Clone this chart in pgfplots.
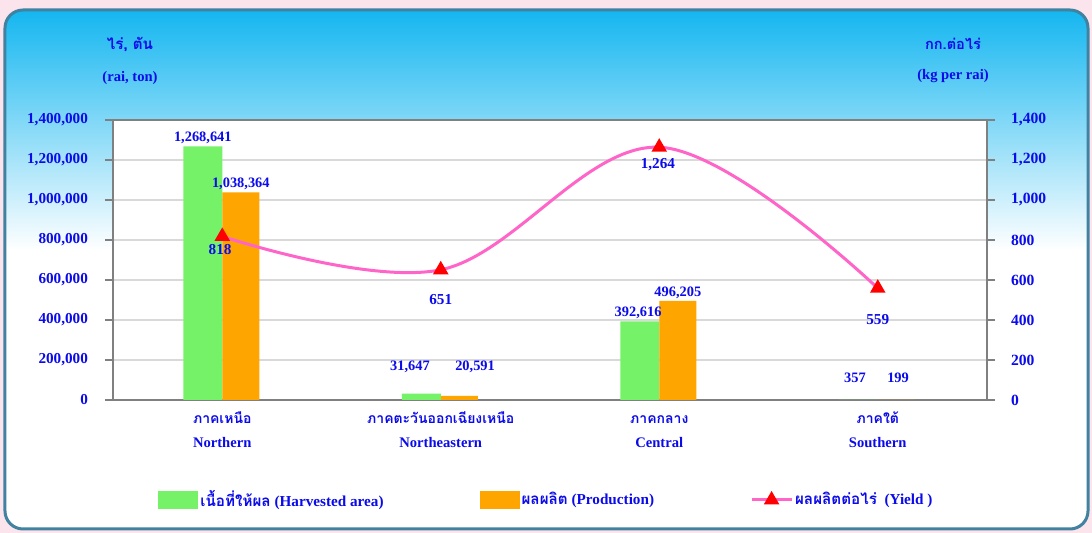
\documentclass[border=0pt]{standalone}
\usepackage{pgfplots}
\pgfplotsset{compat=1.18}
\usepackage{fontspec}
\setmainfont{Liberation Serif}
\newfontfamily\thai[Script=Thai]{Loma}

\definecolor{bgpink}{RGB}{252,228,236}
\definecolor{panelcyan}{RGB}{20,182,240}
\definecolor{panelmid}{RGB}{115,212,248}
\definecolor{panelborder}{RGB}{65,130,160}
\definecolor{txtblue}{RGB}{10,10,235}
\definecolor{bargreen}{RGB}{118,242,104}
\definecolor{barorange}{RGB}{255,165,0}
\definecolor{linepink}{RGB}{255,100,200}

\begin{document}
\begin{tikzpicture}[x=1pt,y=1pt]
% page and panel
\fill[bgpink] (-56.5,-66.5) rectangle (489.5,200);
\begin{scope}
  \clip[rounded corners=9pt] (-54,-64.5) rectangle (487.5,195);
  \fill[white] (-54,-64.5) rectangle (487.5,195);
  \shade[top color=panelcyan, middle color=panelmid, bottom color=white] (-54,75) rectangle (487.5,195);
\end{scope}
\draw[panelborder, line width=1.5pt, rounded corners=9pt] (-54,-64.5) rectangle (487.5,195);

% unit captions
\node[txtblue, font=\fontsize{7.6}{10}\selectfont\thai\bfseries] at (8.5,178) {ไร่, ตัน};
\node[txtblue, font=\fontsize{7.3}{9}\selectfont\bfseries] at (8.5,161) {(rai, ton)};
\node[txtblue, font=\fontsize{7.3}{10}\selectfont\thai\bfseries] at (420,178) {กก.ต่อไร่};
\node[txtblue, font=\fontsize{7.3}{9}\selectfont\bfseries] at (420,162) {(kg per rai)};

\begin{axis}[
    at={(0,0)}, anchor=south west,
    scale only axis, width=437pt, height=140pt,
    xmin=-0.5, xmax=3.5,
    ymin=0, ymax=1400000,
    axis background/.style={fill=white},
    axis line style={gray, line width=0.8pt},
    xtick={0,1,2,3},
    xtick style={draw=none},
    xticklabels={{{\thai\fontsize{7}{12}\selectfont\rule{0pt}{8pt}ภาคเหนือ}\\Northern},
                 {{\thai\fontsize{7}{12}\selectfont\rule{0pt}{8pt}ภาคตะวันออกเฉียงเหนือ}\\Northeastern},
                 {{\thai\fontsize{7}{12}\selectfont\rule{0pt}{8pt}ภาคกลาง}\\Central},
                 {{\thai\fontsize{7}{12}\selectfont\rule{0pt}{8pt}ภาคใต้}\\Southern}},
    xticklabel style={align=center, text=txtblue, anchor=north,
        font=\fontsize{7.3}{12}\selectfont\bfseries, yshift=4pt},
    ytick={0,200000,...,1400000},
    ytick pos=left,
    scaled y ticks=false,
    tick align=outside,
    major tick length=4pt,
    ytick style={gray, line width=0.8pt},
    yticklabel style={text=txtblue, font=\fontsize{7.6}{9}\selectfont\bfseries, xshift=-5pt},
    /pgf/number format/assume math mode=true,
    /pgf/number format/.cd, fixed, 1000 sep={,}, /pgfplots/.cd,
    ymajorgrids,
    major grid style={gray!30, line width=0.8pt},
    legend columns=3,
    legend style={at={(0.0446,-0.357)}, anchor=west, draw=none, fill=none,
        font=\fontsize{7.6}{10}\selectfont\bfseries, text=txtblue,
        nodes={inner sep=1pt},
        /tikz/every even column/.append style={column sep=47pt},
        /tikz/every odd column/.append style={column sep=0pt}},
]
\addplot[ybar, bar width=0.178, bar shift=-0.089, fill=bargreen, draw=none,
    legend image code/.code={\fill[bargreen] (0pt,-4.5pt) rectangle (20pt,4.5pt);}]
    coordinates {(0,1268641)(1,31647)(2,392616)(3,357)};
\addlegendentry{{\thai เนื้อที่ให้ผล} (Harvested area)}
\addplot[ybar, bar width=0.17, bar shift=0.085, fill=barorange, draw=none,
    legend image code/.code={\fill[barorange] (0pt,-4.5pt) rectangle (20pt,4.5pt);}]
    coordinates {(0,1038364)(1,20591)(2,496205)(3,199)};
\addlegendentry{{\thai ผลผลิต} (Production)\hspace{4pt}}
\addlegendimage{linepink, line width=1.5pt, mark=triangle*,
    mark options={fill=red, draw=red, mark size=3pt},
    legend image code/.code={\draw[linepink, line width=1.5pt] (0pt,0pt) -- (20pt,0pt);
        \fill[red] (10pt,0pt) ++(90:3pt) -- ++(-120:5.2pt) -- ++(0:5.2pt) -- cycle;}}
\addlegendentry{{\thai ผลผลิตต่อไร่}\ \ (Yield )}

\begin{scope}[every node/.style={text=txtblue, font=\fontsize{7.2}{9}\selectfont\bfseries, inner sep=1pt}]
\node[anchor=south] at (axis cs:-0.089,1268641) {1,268,641};
\node[anchor=south] at (axis cs:0.085,1038364) {1,038,364};
\node at (axis cs:0.859,165000) {31,647};
\node at (axis cs:1.157,165000) {20,591};
\node[anchor=south] at (axis cs:1.903,392616) {392,616};
\node[anchor=south] at (axis cs:2.085,496205) {496,205};
\node at (axis cs:2.896,110000) {357};
\node at (axis cs:3.093,110000) {199};
\end{scope}
\end{axis}

\begin{axis}[
    at={(0,0)}, anchor=south west,
    scale only axis, width=437pt, height=140pt,
    xmin=-0.5, xmax=3.5,
    ymin=0, ymax=1400,
    axis x line=none,
    axis y line*=right,
    axis line style={gray, line width=0.8pt},
    ytick={0,200,...,1400},
    tick align=outside,
    major tick length=4pt,
    ytick style={gray, line width=0.8pt},
    yticklabel style={text=txtblue, font=\fontsize{7.8}{9}\selectfont\bfseries, xshift=4.5pt},
    /pgf/number format/assume math mode=true,
    /pgf/number format/.cd, fixed, 1000 sep={,}, /pgfplots/.cd,
]
\addplot[smooth, tension=0.6, linepink, line width=1.5pt, mark=triangle*,
    mark options={fill=red, draw=red, mark size=3pt}]
    coordinates {(0,818)(1,651)(2,1264)(3,559)};
\begin{scope}[every node/.style={text=txtblue, font=\fontsize{7.6}{9}\selectfont\bfseries, inner sep=1pt}]
\node at (axis cs:-0.01,750) {818};
\node at (axis cs:1.0,500) {651};
\node at (axis cs:1.994,1175) {1,264};
\node at (axis cs:3.0,400) {559};
\end{scope}
\end{axis}
\end{tikzpicture}
\end{document}
